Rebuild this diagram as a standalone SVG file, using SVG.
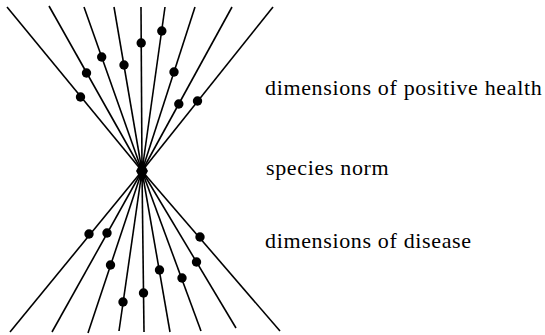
<svg xmlns="http://www.w3.org/2000/svg" width="545" height="335" viewBox="0 0 545 335">
<style>
.ln{stroke:#000;stroke-width:1.6;fill:none;stroke-linecap:butt}
.dot{fill:#000}
.lbl{font-family:"Liberation Serif","Times New Roman",serif;font-size:22px;fill:#000;letter-spacing:0.65px}
</style>
<rect width="545" height="335" fill="#fff"/>
<g id="connectors">
<line class="ln" x1="7" y1="7" x2="142" y2="171"/>
<line class="ln" x1="49" y1="6" x2="142" y2="171"/>
<line class="ln" x1="84" y1="7" x2="142" y2="171"/>
<line class="ln" x1="114" y1="7" x2="142" y2="171"/>
<line class="ln" x1="141" y1="7" x2="142" y2="171"/>
<line class="ln" x1="165" y1="7" x2="142" y2="171"/>
<line class="ln" x1="195" y1="7" x2="142" y2="171"/>
<line class="ln" x1="232" y1="7" x2="142" y2="171"/>
<line class="ln" x1="273" y1="7" x2="142" y2="171"/>
<line class="ln" x1="142" y1="171" x2="10" y2="332"/>
<line class="ln" x1="142" y1="171" x2="52" y2="332"/>
<line class="ln" x1="142" y1="171" x2="88" y2="333"/>
<line class="ln" x1="142" y1="171" x2="119" y2="331"/>
<line class="ln" x1="142" y1="171" x2="144" y2="332"/>
<line class="ln" x1="142" y1="171" x2="170" y2="332"/>
<line class="ln" x1="142" y1="171" x2="201" y2="331"/>
<line class="ln" x1="142" y1="171" x2="236" y2="328"/>
<line class="ln" x1="142" y1="171" x2="280" y2="331"/>
<polygon points="142,160 148,171 142,182 136,171" fill="#000"/>
</g>
<g id="upper-dots">
<circle class="dot" cx="80.5" cy="97" r="4.7"/>
<circle class="dot" cx="86.5" cy="73" r="4.7"/>
<circle class="dot" cx="101.7" cy="57" r="4.7"/>
<circle class="dot" cx="124" cy="65" r="4.7"/>
<circle class="dot" cx="141.2" cy="43" r="4.7"/>
<circle class="dot" cx="161.8" cy="31" r="4.7"/>
<circle class="dot" cx="174" cy="72" r="4.7"/>
<circle class="dot" cx="178.8" cy="104" r="4.7"/>
<circle class="dot" cx="197.5" cy="101" r="4.7"/>
</g>
<g id="lower-dots">
<circle class="dot" cx="89" cy="234" r="4.7"/>
<circle class="dot" cx="107" cy="233" r="4.7"/>
<circle class="dot" cx="110.5" cy="265" r="4.7"/>
<circle class="dot" cx="123" cy="302" r="4.7"/>
<circle class="dot" cx="143.5" cy="293" r="4.7"/>
<circle class="dot" cx="159.5" cy="270" r="4.7"/>
<circle class="dot" cx="182" cy="278" r="4.7"/>
<circle class="dot" cx="196.5" cy="262" r="4.7"/>
<circle class="dot" cx="200" cy="237" r="4.7"/>
</g>
<g id="label-positive-health"><text class="lbl" x="265" y="95">dimensions of positive health</text></g>
<g id="label-species-norm"><text class="lbl" x="266" y="175">species norm</text></g>
<g id="label-disease"><text class="lbl" x="265" y="248">dimensions of disease</text></g>
</svg>
